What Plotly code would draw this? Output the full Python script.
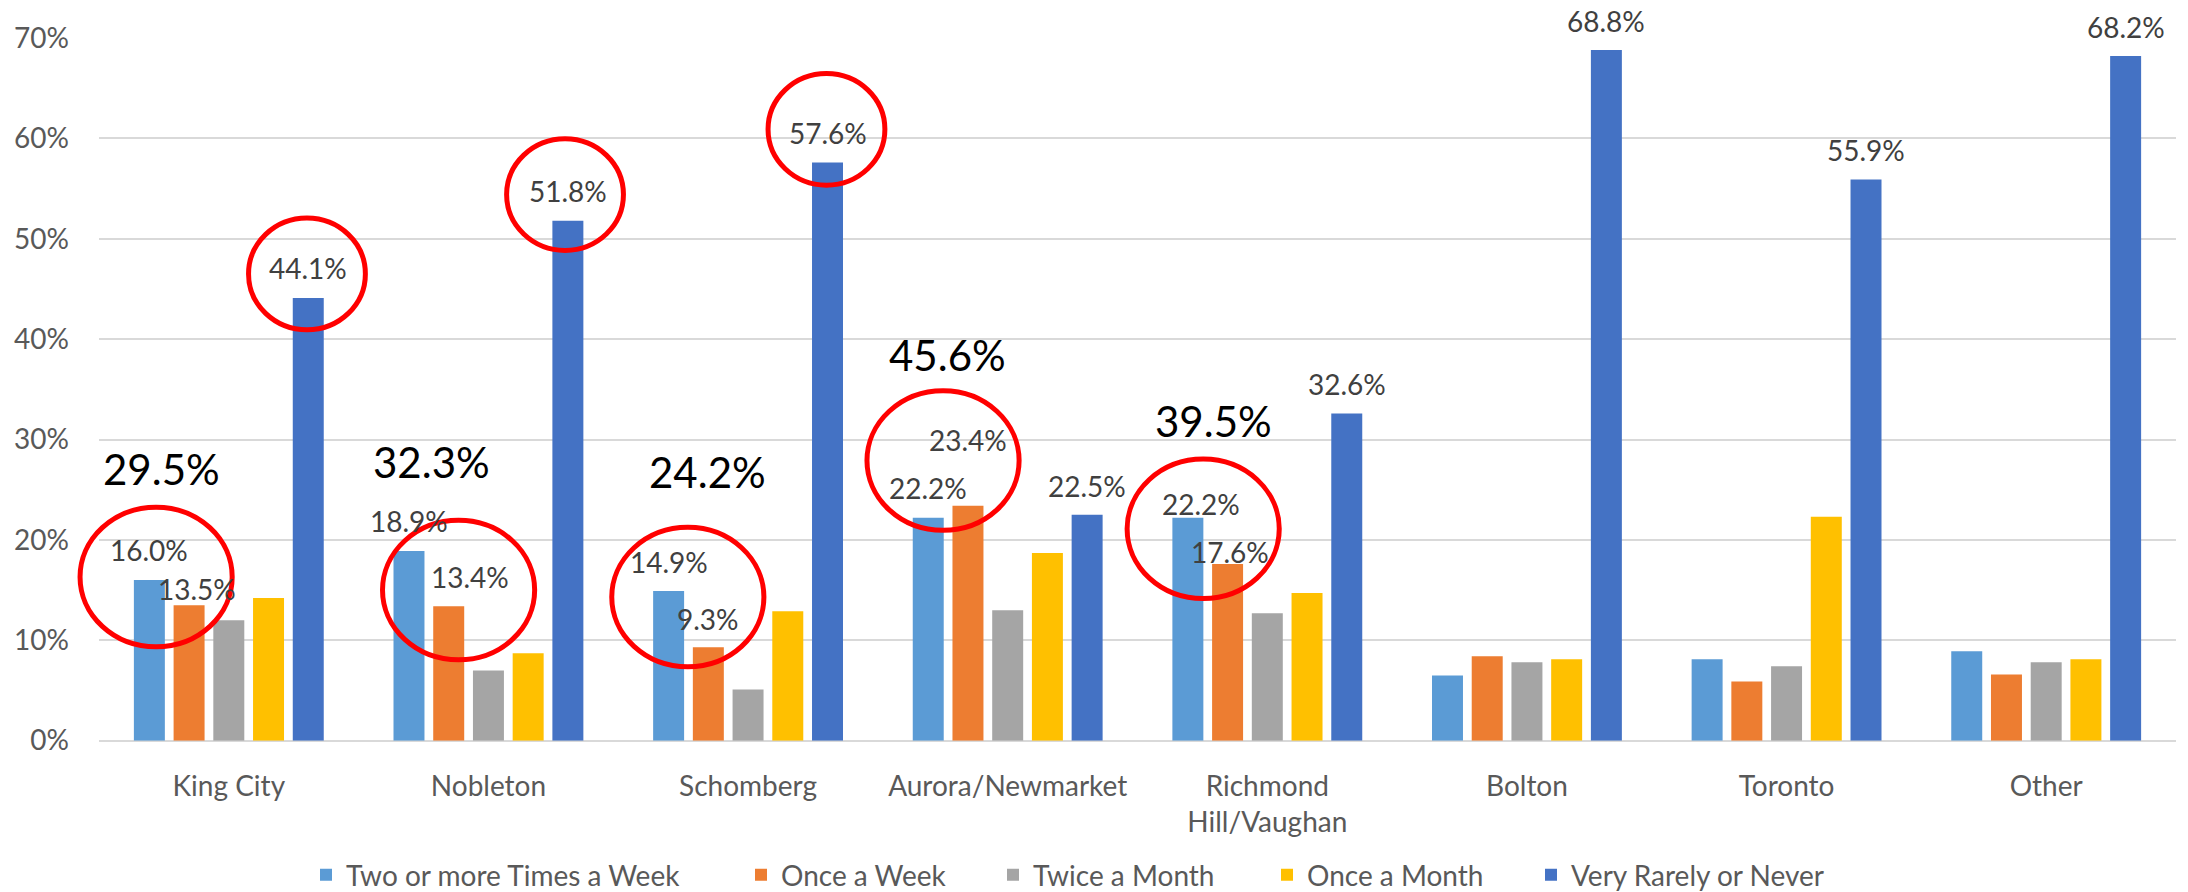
import plotly.graph_objects as go

# ---------------- data ----------------
categories = ["King City", "Nobleton", "Schomberg", "Aurora/Newmarket",
              "Richmond Hill/Vaughan", "Bolton", "Toronto", "Other"]
tick_labels = ["King City", "Nobleton", "Schomberg", "Aurora/Newmarket",
               "Richmond<br>Hill/Vaughan", "Bolton", "Toronto", "Other"]
series_names = ["Two or more Times a Week", "Once a Week", "Twice a Month",
                "Once a Month", "Very Rarely or Never"]

two_plus_week = [16.0, 18.9, 14.9, 22.2, 22.2, 6.5, 8.1, 8.9]
once_week = [13.5, 13.4, 9.3, 23.4, 17.6, 8.4, 5.9, 6.6]
twice_month = [12.0, 7.0, 5.1, 13.0, 12.7, 7.8, 7.4, 7.8]
once_month = [14.2, 8.7, 12.9, 18.7, 14.7, 8.1, 22.3, 8.1]
rarely_never = [44.1, 51.8, 57.6, 22.5, 32.6, 68.8, 55.9, 68.2]

# combined "weekly" totals highlighted for first five locations
weekly_totals = [29.5, 32.3, 24.2, 45.6, 39.5]

y_ticks = [0, 10, 20, 30, 40, 50, 60, 70]
y_tick_text = ["0%", "10%", "20%", "30%", "40%", "50%", "60%", "70%"]

# ---------------- styling / layout config ----------------
series_values = [two_plus_week, once_week, twice_month, once_month, rarely_never]
colors = ["#5B9BD5", "#ED7D31", "#A5A5A5", "#FFC000", "#4472C4"]
FONT = "Lato, 'Open Sans', sans-serif"
GREY = "#595959"
BARGAP = 0.235
SLOT = (1 - BARGAP) / 5
PX_PER_PCT = 10.07
Y_MAX = 70
N_CAT = len(categories)

# data labels shown: (series index, category index) -> (x shift px, y offset in %)
label_spec = {
    (0, 0): (0, 2.95), (1, 0): (8, 1.6), (4, 0): (0, 2.95),
    (0, 1): (0, 2.95), (1, 1): (21, 2.9), (4, 1): (0, 2.95),
    (0, 2): (0, 2.85), (1, 2): (0, 2.85), (4, 2): (0, 2.95),
    (0, 3): (0, 2.95), (1, 3): (0, 6.5), (4, 3): (0, 2.9),
    (0, 4): (13, 1.4), (1, 4): (2, 1.2), (4, 4): (0, 2.9),
    (4, 5): (0, 2.9), (4, 6): (0, 2.9), (4, 7): (0, 2.9),
}

# total label placement: (x offset from category centre, y position)
total_pos = [(-0.261, 27.1), (-0.221, 27.75), (-0.156, 26.8), (-0.232, 38.4), (-0.207, 31.86)]

# red highlight ellipses: (category index, x offset, y centre, x radius, y radius)
ellipses = [
    (0, -0.280, 16.3, 0.293, 6.95), (1, -0.115, 15.0, 0.293, 6.95),
    (2, -0.232, 14.3, 0.293, 6.95), (3, -0.249, 27.9, 0.293, 6.95),
    (4, -0.247, 21.1, 0.293, 6.95),
    (0, 0.301, 46.5, 0.225, 5.56), (1, 0.295, 54.4, 0.225, 5.56),
    (2, 0.302, 60.9, 0.225, 5.56),
]

# legend entry left positions (container fraction)
legend_x = [306 / 2188, 741 / 2188, 993 / 2188, 1267 / 2188, 1531 / 2188]
legend_ids = ["legend", "legend2", "legend3", "legend4", "legend5"]

fig = go.Figure()
for name, vals, col, lid in zip(series_names, series_values, colors, legend_ids):
    fig.add_trace(go.Bar(x=categories, y=vals, name=name, legend=lid,
                         marker=dict(color=col, line=dict(width=0))))

annotations = []
for (s, c), (dx, dy) in label_spec.items():
    v = series_values[s][c]
    annotations.append(dict(
        x=c + (s - 2) * SLOT, y=v, xref="x", yref="y",
        text=f"{v:.1f}%", showarrow=False, xshift=dx, yshift=dy * PX_PER_PCT,
        xanchor="center", yanchor="middle",
        font=dict(family=FONT, size=28, color="#404040")))

for c, (tot, (dx, yy)) in enumerate(zip(weekly_totals, total_pos)):
    annotations.append(dict(
        x=c + dx, y=yy, xref="x", yref="y", text=f"{tot:.1f}%",
        showarrow=False, xanchor="center", yanchor="middle",
        font=dict(family=FONT, size=42, color="#000000")))

# ellipses in paper units (axes span the full paper domain) so they are not clipped
def xpaper(v):
    return (v + 0.5) / N_CAT

shapes = []
for c, dx, yc, rx, ry in ellipses:
    shapes.append(dict(type="circle", xref="paper", yref="paper",
                       x0=xpaper(c + dx - rx), x1=xpaper(c + dx + rx),
                       y0=(yc - ry) / Y_MAX, y1=(yc + ry) / Y_MAX,
                       line=dict(color="#FF0000", width=5), fillcolor="rgba(0,0,0,0)"))

legend_common = dict(orientation="h", xref="container", xanchor="left",
                     yref="container", y=0.019, yanchor="middle",
                     bgcolor="rgba(0,0,0,0)",
                     font=dict(family=FONT, size=28, color=GREY))
legends = {lid: dict(x=lx, **legend_common) for lid, lx in zip(legend_ids, legend_x)}

fig.update_layout(
    width=2188, height=892,
    margin=dict(l=99, r=12, t=38, b=149),
    paper_bgcolor="white", plot_bgcolor="white",
    barmode="group", bargap=BARGAP, bargroupgap=0.22,
    font=dict(family=FONT, size=28, color=GREY),
    annotations=annotations, shapes=shapes,
    showlegend=True,
    xaxis=dict(type="category", tickvals=categories, ticktext=tick_labels,
               range=[-0.5, N_CAT - 0.5], autorange=False,
               showgrid=False, showline=False, ticks="", ticklabelstandoff=26,
               tickfont=dict(family=FONT, size=28, color=GREY)),
    yaxis=dict(range=[0, Y_MAX], autorange=False, tickvals=y_ticks, ticktext=y_tick_text,
               showgrid=True, gridcolor="#D9D9D9", gridwidth=2,
               zeroline=True, zerolinecolor="#D9D9D9", zerolinewidth=2,
               showline=False, ticks="", ticklabelstandoff=29,
               tickfont=dict(family=FONT, size=28, color=GREY)),
    **legends,
)

fig.write_html("out.html", config={"displayModeBar": False},
               post_script="document.body.style.margin='0';document.body.style.overflow='hidden';")
